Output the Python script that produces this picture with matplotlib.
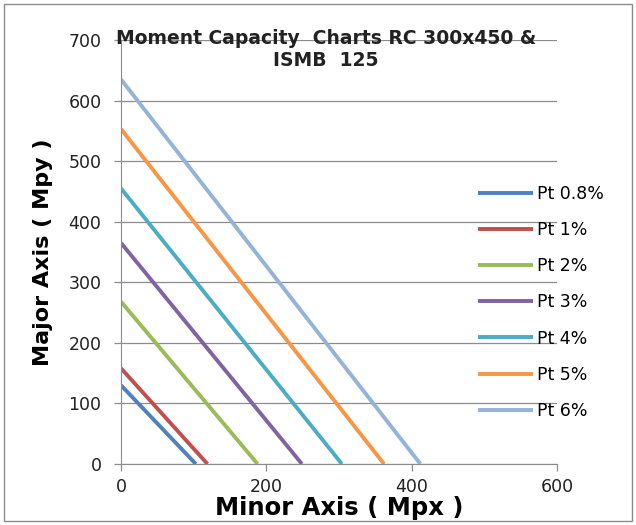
import matplotlib
matplotlib.use("Agg")
import matplotlib.pyplot as plt
from matplotlib.patches import Rectangle

# series: (Mpx, Mpy) end points of each straight interaction line
labels = ["Pt 0.8%", "Pt 1%", "Pt 2%", "Pt 3%", "Pt 4%", "Pt 5%", "Pt 6%"]
mpy_at_zero = [130, 158, 268, 365, 455, 553, 635]
mpx_at_zero = [103, 119, 188, 249, 304, 362, 412]
colors = ["#4F81BD", "#C0504D", "#9BBB59", "#8064A2", "#4BACC6", "#F79646", "#95B3D7"]

xticks = [0, 200, 400, 600]
yticks = [0, 100, 200, 300, 400, 500, 600, 700]

fig = plt.figure(figsize=(6.36, 5.25), dpi=100)
ax = fig.add_axes([121/636, 61/525, 436/636, 424/525])

for lab, y0, x0, c in zip(labels, mpy_at_zero, mpx_at_zero, colors):
    ax.plot([0, x0], [y0, 0], color=c, lw=2.8, label=lab, solid_capstyle="butt")

ax.set_xlim(0, 600)
ax.set_ylim(0, 700)
ax.set_xticks(xticks)
ax.set_yticks(yticks)
ax.yaxis.grid(True, color="#8c8c8c", lw=0.9)
ax.set_axisbelow(True)
for s in ["top", "right"]:
    ax.spines[s].set_visible(False)
for s in ["left", "bottom"]:
    ax.spines[s].set_color("#8c8c8c")
ax.tick_params(axis="both", colors="#8c8c8c", labelcolor="#222222", labelsize=12.5, length=5, width=0.9)
ax.tick_params(axis="y", pad=9)
ax.tick_params(axis="x", pad=5)

ax.set_xlabel("Minor Axis ( Mpx )", fontsize=17.5, fontweight="bold", labelpad=0)
ax.set_ylabel("Major Axis ( Mpy )", fontsize=16, fontweight="bold", labelpad=11)

fig.text(0.512, 1 - 38/525, "Moment Capacity  Charts RC 300x450 &", ha="center", va="center",
         fontsize=13.5, fontweight="bold", color="#222222")
fig.text(0.512, 1 - 61/525, "ISMB  125", ha="center", va="center",
         fontsize=13.5, fontweight="bold", color="#222222")

leg = fig.legend(loc="upper left", bbox_to_anchor=(462/636, 1 - 169/525), frameon=False,
                 fontsize=12.5, handlelength=3.2, handletextpad=0.2, labelspacing=1.05)

fig.patches.append(Rectangle((4/636, 4/525), 628/636, 517/525, transform=fig.transFigure,
                             fill=False, edgecolor="#8c8c8c", lw=1.0))

fig.savefig("out.png", dpi=100)
